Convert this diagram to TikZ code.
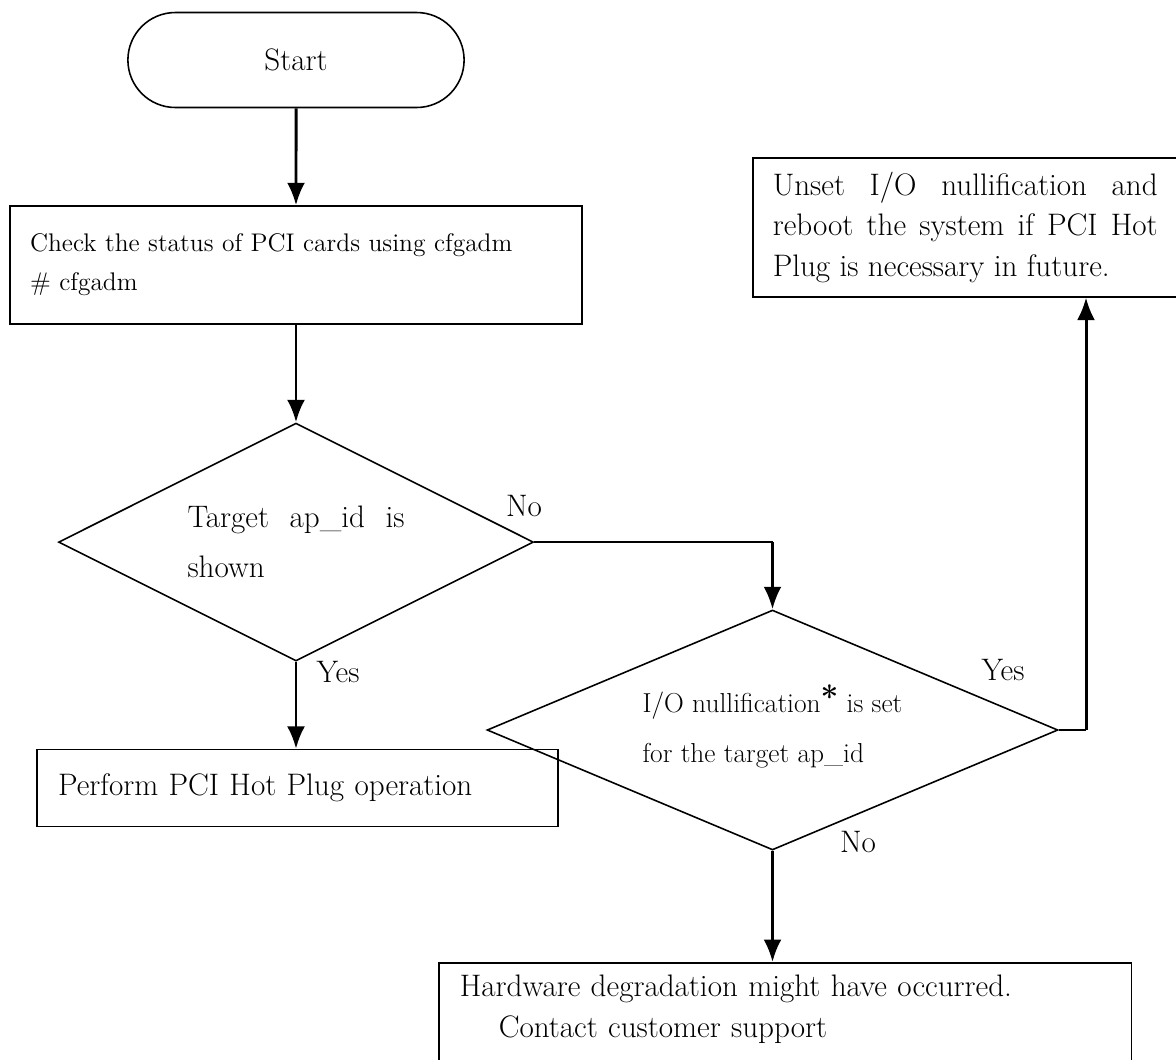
\documentclass[tikz,border=0pt]{standalone}
\usepackage{tikz}
\usetikzlibrary{arrows.meta,shapes,positioning}
\newcommand{\bigtxt}{\fontsize{17.7}{23}\selectfont}
\newcommand{\smalltxt}{\fontsize{14.5}{22.2}\selectfont}
\newcommand{\dbigtxt}{\fontsize{17.7}{28.5}\selectfont}
\newcommand{\dsmalltxt}{\fontsize{15.6}{28.5}\selectfont}
\newcommand{\notestar}{\smash{\raisebox{0.35ex}{\fontsize{18}{18}\selectfont\bfseries *}}}
\tikzstyle{arrow} = [line width=1.7pt,-{Latex[length=0.45cm,width=0.36cm]}]
\tikzstyle{line} = [line width=0.9pt]
\tikzstyle{startstop} = [rounded rectangle, draw, line width=0.9pt, minimum width=6.96cm, minimum height=1.9cm, font=\bigtxt]
\tikzstyle{procbox} = [rectangle, draw, line width=0.9pt, align=left, inner xsep=0.4cm]
\tikzstyle{decision} = [diamond, draw, line width=0.9pt, aspect=2, inner sep=0pt]
\begin{document}
\begin{tikzpicture}[
    x=0.02cm, y=-0.02cm,
    every node/.style={font=\bigtxt}
]
\clip (0,0) rectangle (1176,1059);

% Left column
\node[startstop] (start) at (296,60) {Start};
\node[procbox, below=1.94cm of start, text width=10.64cm, minimum height=2.36cm, font=\smalltxt] (check)
    {Check the status of PCI cards using cfgadm\\\# cfgadm};
\node[decision, below=1.95cm of check, minimum width=9.5cm, minimum height=4.76cm,
    text width=4.34cm, align=justify, font=\dbigtxt] (target) {Target ap\_id is shown};
\node[procbox, below=1.74cm of target, xshift=0.03cm, text width=9.58cm, inner xsep=0.42cm, minimum height=1.54cm] (perform)
    {Perform PCI Hot Plug operation};

% Right column
\node[decision, minimum width=11.42cm, minimum height=4.8cm, align=left, font=\dsmalltxt] (nullset) at (772.5,730)
    {I/O nullification\notestar{} is set\\for the target ap\_id};
\node[procbox, anchor=north west, text width=7.7cm, minimum height=2.78cm, align=justify] (unset) at (752,157)
    {Unset I/O nullification and\linebreak reboot the system if PCI Hot\linebreak Plug is necessary in future.};
\node[procbox, anchor=north west, text width=13.02cm, inner xsep=0.42cm, inner ysep=0.25cm, text depth=2.5cm] (hwfail) at (438,962)
    {Hardware degradation might have occurred.\\\hspace*{0.78cm}Contact customer support};

% Labels
\node (no1) at (524,506) {No};
\node (yes1) at (338,672) {Yes};
\node (yes2) at (1003,670) {Yes};
\node (no2) at (858,842) {No};

% Connections
\coordinate (nocorner) at (target.east -| nullset.north);
\coordinate (yescorner) at (1086,730);
\draw[arrow] (start) -- (check);
\draw[arrow] (check) -- (target);
\draw[arrow] (target.south) -- (target.south |- perform.north);
\draw[line] (target.east) -- (nocorner);
\draw[arrow] (nocorner) -- (nullset.north);
\draw[line] (nullset.east) -- (yescorner);
\draw[arrow] (yescorner) -- (yescorner |- unset.south);
\draw[arrow] (nullset.south) -- (nullset.south |- hwfail.north);

\end{tikzpicture}
\end{document}
